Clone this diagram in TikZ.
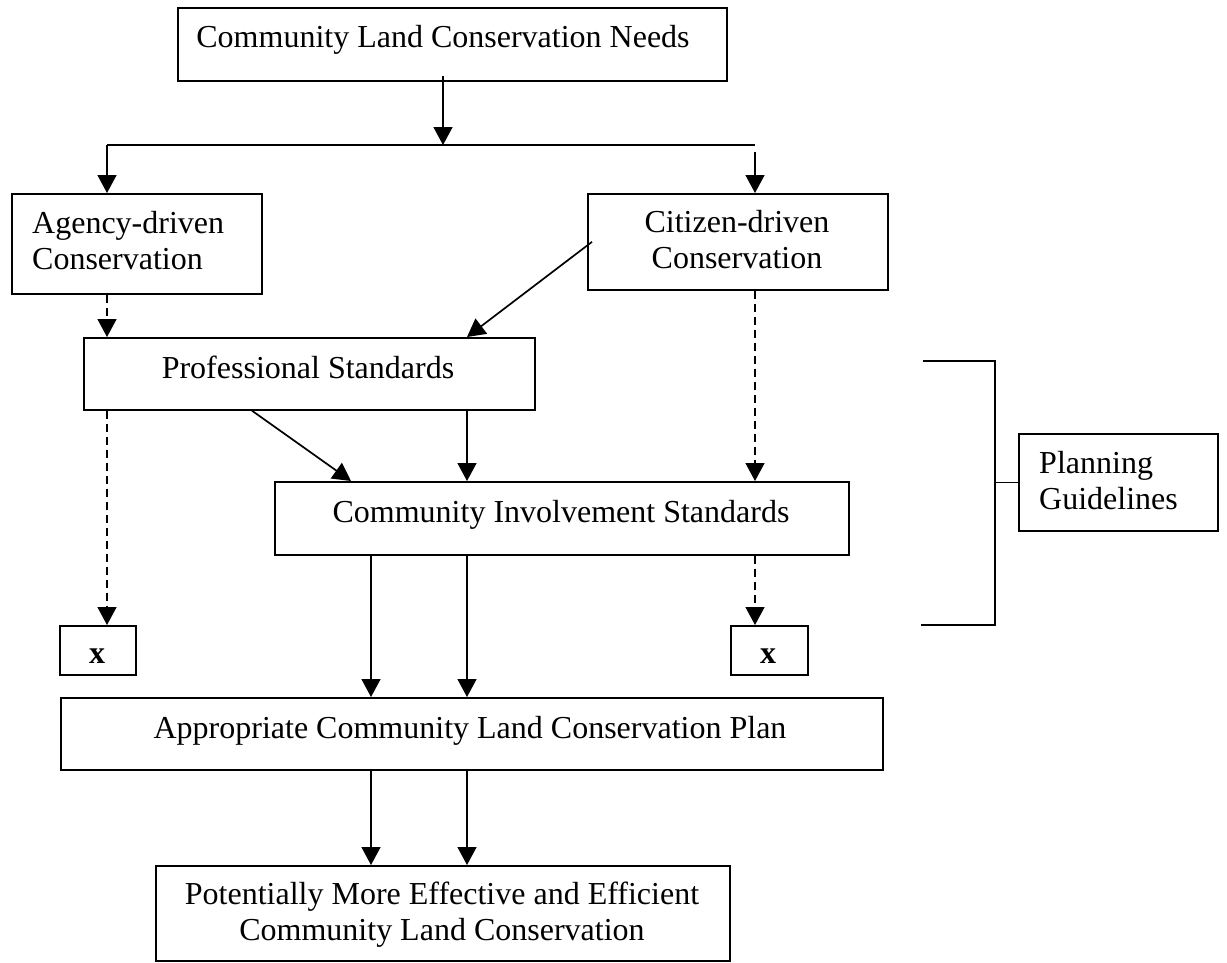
\documentclass[tikz,border=0pt]{standalone}
\usepackage{fontspec}
\setmainfont{Liberation Serif}
\usetikzlibrary{arrows.meta,calc}
\begin{document}
\begin{tikzpicture}[x=1pt,y=-1pt,
  box/.style={draw,line width=1.7pt,inner sep=0pt,anchor=north west},
  txt/.style={inner sep=0pt,font=\fontsize{32}{36.5}\selectfont},
  conn/.style={line width=1.7pt,-{Triangle[length=18pt,width=19pt]}},
  dconn/.style={conn,dash pattern=on 8pt off 5pt},
  plain/.style={line width=1.7pt}]
\useasboundingbox (0,0) rectangle (1227,962);
% boxes
\node[box,minimum width=549pt,minimum height=73pt] (b1) at (177,7) {};
\node[box,minimum width=250pt,minimum height=100pt] (ag) at (11,193) {};
\node[box,minimum width=300pt,minimum height=96pt] (ci) at (587,193) {};
\node[box,minimum width=451pt,minimum height=72pt] (ps) at (83,337) {};
\node[box,minimum width=574pt,minimum height=73pt] (cis) at (274,481) {};
\node[box,minimum width=76pt,minimum height=49pt] (xl) at (59,625) {};
\node[box,minimum width=77pt,minimum height=49pt] (xr) at (730,625) {};
\node[box,minimum width=822pt,minimum height=72pt] (ap) at (60,697) {};
\node[box,minimum width=574pt,minimum height=95pt] (pe) at (155,865) {};
\node[box,minimum width=199pt,minimum height=97pt] (pg) at (1018,433) {};
% texts
\node[txt,anchor=base] (b1t) at (443,47) {Community Land Conservation Needs};
\node[txt,anchor=base west] (agt) at (32,233) {\begin{tabular}[t]{@{}l@{}}Agency-driven\\Conservation\end{tabular}};
\node[txt,anchor=base] (cit) at (737,232) {\begin{tabular}[t]{@{}c@{}}Citizen-driven\\Conservation\end{tabular}};
\node[txt,anchor=base] (pst) at (308,378) {Professional Standards};
\node[txt,anchor=base] (cist) at (561,522) {Community Involvement Standards};
\node[txt,anchor=base,font=\fontsize{32}{36.5}\selectfont\bfseries] (xlt) at (97,663) {x};
\node[txt,anchor=base,font=\fontsize{32}{36.5}\selectfont\bfseries] (xrt) at (768,663) {x};
\node[txt,anchor=base] (apt) at (470,738) {Appropriate Community Land Conservation Plan};
\node[txt,anchor=base] (pet) at (442,904) {\begin{tabular}[t]{@{}c@{}}Potentially More Effective and Efficient\\Community Land Conservation\end{tabular}};
\node[txt,anchor=base west] (pgt) at (1039,473) {\begin{tabular}[t]{@{}l@{}}Planning\\Guidelines\end{tabular}};
% helper coordinates
\coordinate (xA) at (107,0);
\coordinate (xB) at (371,0);
\coordinate (xC) at (467,0);
\coordinate (xD) at (755,0);
\coordinate (xF) at (252,0);
\coordinate (xG) at (351,0);
\coordinate (hl) at (107,145);
\coordinate (hm) at (443,145);
\coordinate (hr) at (755,145);
\coordinate (hr2) at (755,152);
\coordinate (bt) at (923,361);
\coordinate (bt2) at (995,361);
\coordinate (bb) at (921,625);
\coordinate (bb2) at (995,625);
% connectors
\draw[conn] ([yshift=6pt]b1.south -| hm) -- (hm);
\draw[plain] (hl) -- (hr);
\draw[conn] (hl) -- (ag.north -| hl);
\draw[conn] (hr2) -- (ci.north -| hr2);
\draw[dconn] (ag.south -| xA) -- (ps.north -| xA);
\draw[conn] ([xshift=5pt]ci.west) -- (ps.north -| xC);
\draw[dconn] (ci.south -| xD) -- (cis.north -| xD);
\draw[dconn] (ps.south -| xA) -- (xl.north -| xA);
\draw[conn] (ps.south -| xF) -- (cis.north -| xG);
\draw[conn] (ps.south -| xC) -- (cis.north -| xC);
\draw[conn] (cis.south -| xB) -- (ap.north -| xB);
\draw[conn] (cis.south -| xC) -- (ap.north -| xC);
\draw[dconn] (cis.south -| xD) -- (xr.north -| xD);
\draw[conn] (ap.south -| xB) -- (pe.north -| xB);
\draw[conn] (ap.south -| xC) -- (pe.north -| xC);
% bracket
\draw[plain] (bt) -- (bt2) -- (bb2) -- (bb);
\draw[plain] (pg.west) -- (pg.west -| bt2);
\end{tikzpicture}
\end{document}
